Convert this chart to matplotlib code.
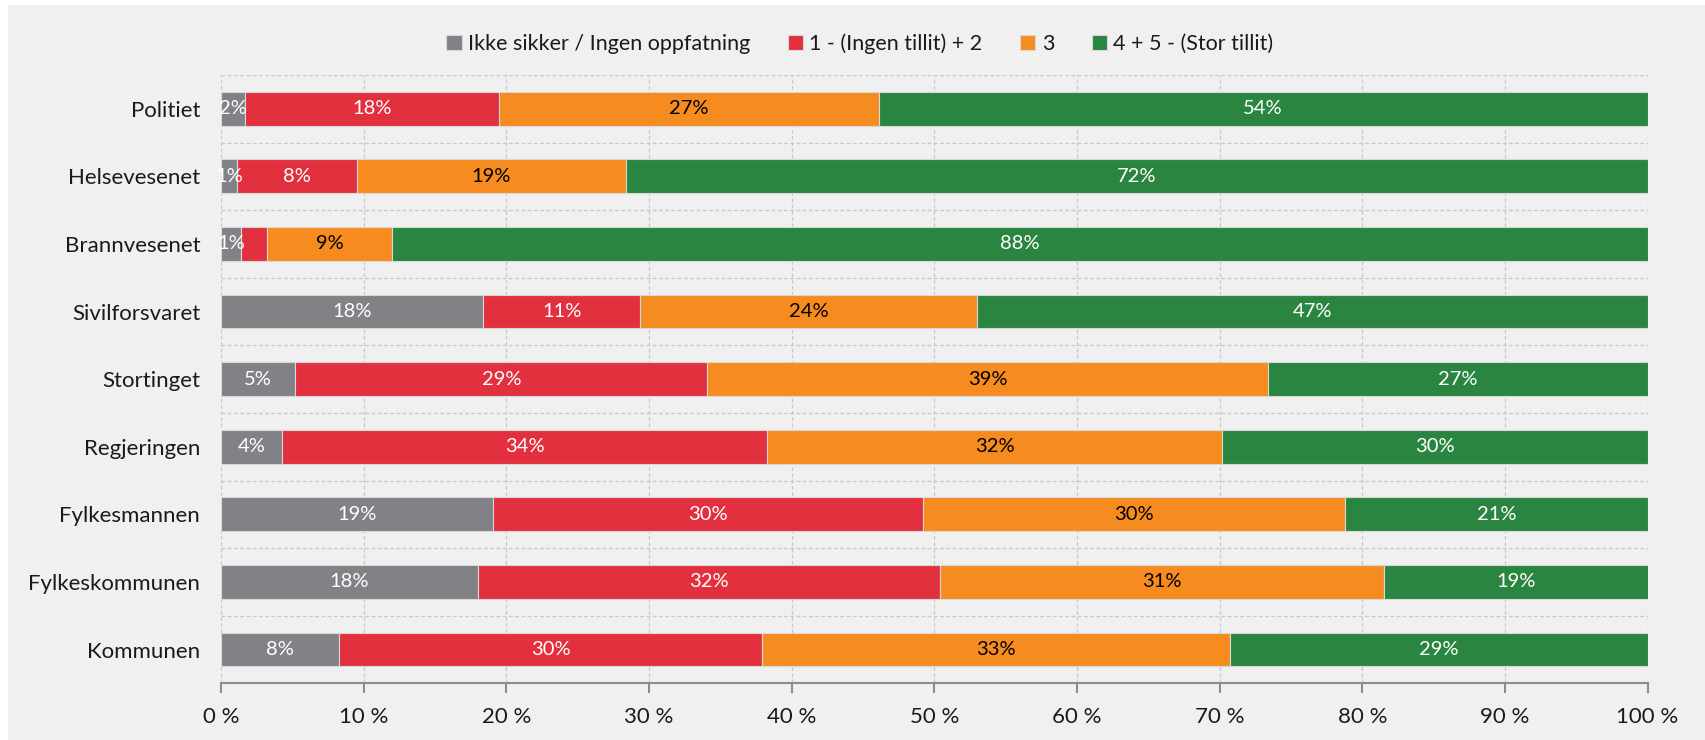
import matplotlib.pyplot as plt
import matplotlib.patches as mpatches
import numpy as np

plt.rcParams['font.family'] = ['Lato', 'DejaVu Sans']

categories = ['Politiet', 'Helsevesenet', 'Brannvesenet', 'Sivilforsvaret', 'Stortinget',
              'Regjeringen', 'Fylkesmannen', 'Fylkeskommunen', 'Kommunen']
series_names = ['Ikke sikker / Ingen oppfatning', '1 - (Ingen tillit) + 2', '3', '4 + 5 - (Stor tillit)']
ikke_sikker = [1.7, 1.1, 1.4, 18.4, 5.2, 4.3, 19.1, 18.0, 8.3]
lav_tillit = [17.8, 8.4, 1.8, 11.0, 28.9, 34.0, 30.1, 32.4, 29.6]
middels = [26.6, 18.9, 8.8, 23.6, 39.3, 31.9, 29.6, 31.1, 32.8]
stor_tillit = [53.9, 71.6, 88.0, 47.0, 26.6, 29.8, 21.2, 18.6, 29.3]
# segments without a data label: (series index, category index)
hidden_labels = [(1, 2)]

colors = ['#808285', '#e3303f', '#f68b20', '#2a8540']
label_colors = ['white', 'white', 'black', 'white']

fig = plt.figure(figsize=(17.05, 7.4), dpi=100, facecolor='white')
fig.patches.append(mpatches.Rectangle((8 / 1705, 0), 1, 1 - 5 / 740, transform=fig.transFigure,
                                      facecolor='#f0f0f0', edgecolor='none', zorder=-10))
ax = fig.add_axes([221 / 1705, 1 - 683.3 / 740, (1647.6 - 221) / 1705, (683.3 - 75) / 740])
ax.set_facecolor('none')

y = np.arange(len(categories))
left = np.zeros(len(categories))
data = [ikke_sikker, lav_tillit, middels, stor_tillit]
for i, vals in enumerate(data):
    vals = np.array(vals)
    ax.barh(y, vals, left=left, height=0.5, color=colors[i], edgecolor='#d8d8d8',
            linewidth=0.8, label=series_names[i], zorder=3)
    for j, v in enumerate(vals):
        if (i, j) in hidden_labels:
            continue
        ax.text(left[j] + v / 2, y[j], f'{int(v + 0.5)}%', ha='center', va='center',
                color=label_colors[i], fontsize=14.5, zorder=4)
    left += vals

ax.set_xlim(0, 100)
ax.set_ylim(len(categories) - 0.5, -0.5)
ax.set_yticks(y)
ax.set_yticklabels(categories, fontsize=16, color='#1a1a1a')
ax.set_xticks(np.arange(0, 101, 10))
ax.set_xticklabels([f'{t} %' for t in range(0, 101, 10)], fontsize=16, color='#1a1a1a')
ax.tick_params(axis='y', length=0, pad=15)
ax.tick_params(axis='x', length=7, width=1.5, color='#8c8c8c', pad=10)

for xv in np.arange(0, 101, 10):
    ax.axvline(xv, color='#c8c8c8', linestyle=(0, (3, 2)), linewidth=0.9, zorder=1)
for yv in np.arange(-0.5, len(categories) - 0.5, 1):
    ax.axhline(yv, color='#c8c8c8', linestyle=(0, (3, 2)), linewidth=0.9, zorder=1)

for s in ['top', 'right', 'left']:
    ax.spines[s].set_visible(False)
ax.spines['bottom'].set_color('#8c8c8c')
ax.spines['bottom'].set_linewidth(1.5)

fig.legend(loc='center', bbox_to_anchor=(860 / 1705, 1 - 44 / 740), ncol=4, frameon=False,
           fontsize=15.5, handlelength=0.7, handleheight=0.7, handletextpad=0.3,
           columnspacing=1.75, labelcolor='#1a1a1a')

fig.savefig('out.png', dpi=100, facecolor=fig.get_facecolor())
